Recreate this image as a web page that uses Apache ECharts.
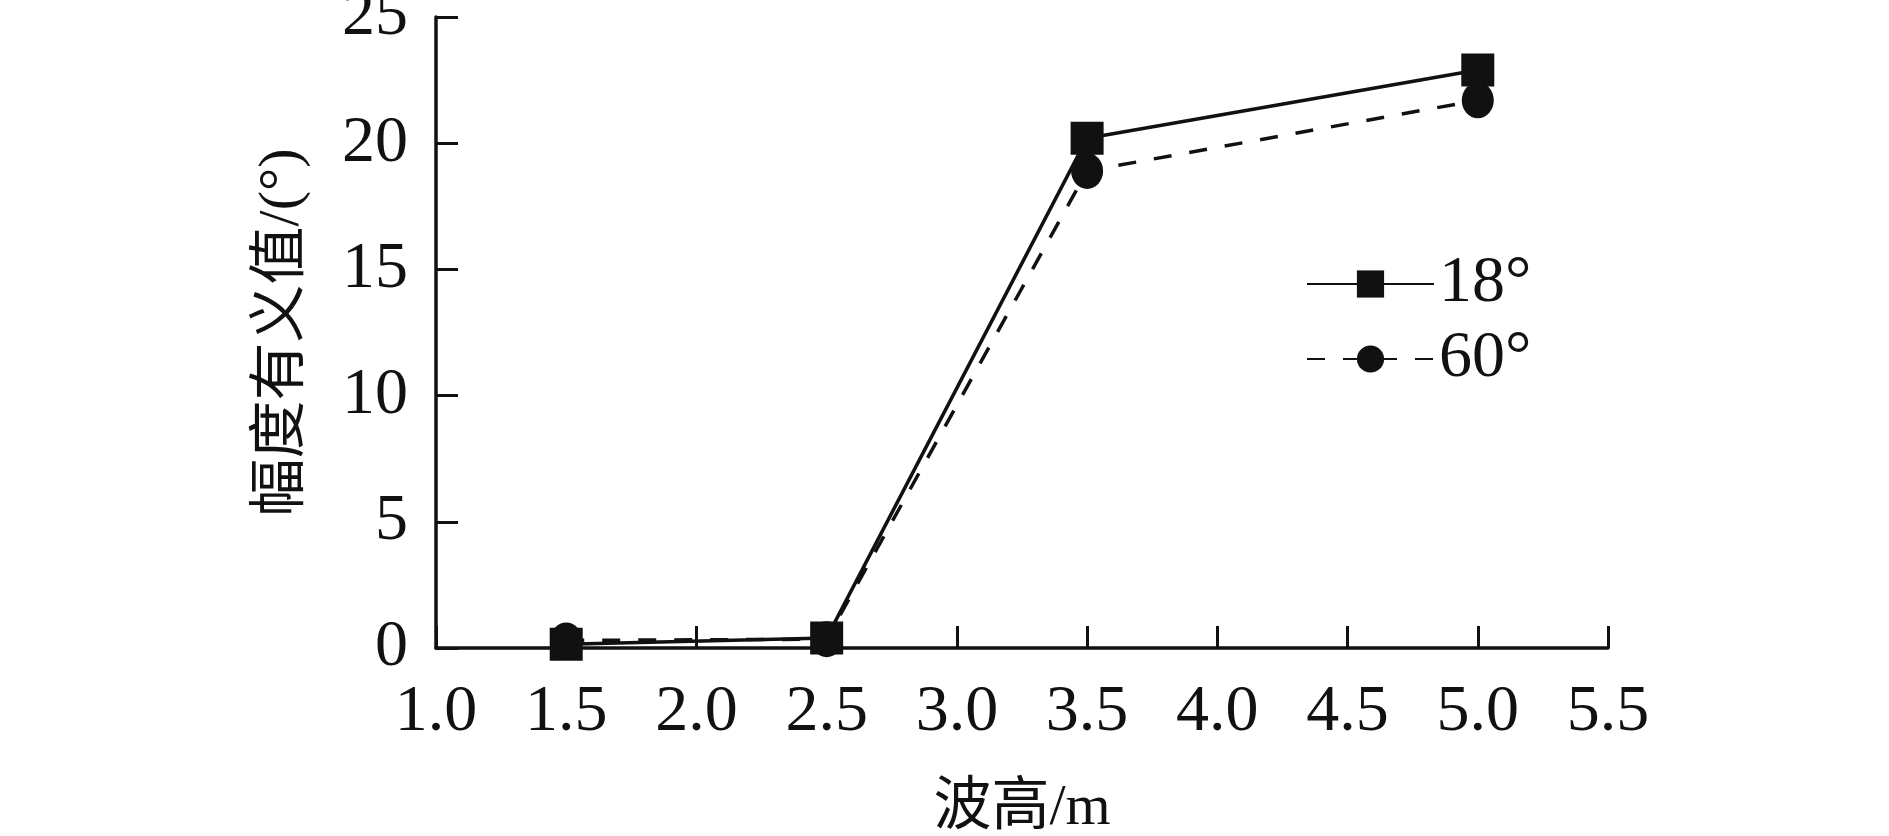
<!DOCTYPE html>
<html>
<head>
<meta charset="utf-8">
<script src="https://cdn.jsdelivr.net/npm/echarts@6/dist/echarts.min.js"></script>
<style>
  html, body { margin: 0; padding: 0; background: #fff; }
  #chart { width: 1889px; height: 836px; }
</style>
</head>
<body>
<div id="chart"></div>
<script>
// wave height (m) vs significant amplitude (deg)
const waveHeights = [1.5, 2.5, 3.5, 5.0];
const amp18 = [0.15, 0.4, 20.2, 22.9];
const amp60 = [0.3, 0.35, 18.9, 21.7];
const seriesNames = ['18°', '60°'];

const font = '"Liberation Serif", "Noto Sans CJK SC", serif';
const ink = '#111';

function pairs(xs, ys) {
  return xs.map((x, i) => [x, ys[i]]);
}

let option = {
  animation: false,
  backgroundColor: '#fff',
  grid: {
    left: 436,
    right: 281,
    top: 17,
    bottom: 188,
    outerBoundsMode: 'none'
  },
  legend: {
    orient: 'vertical',
    left: 1301,
    top: 246,
    itemWidth: 127,
    itemHeight: 34,
    itemGap: 9,
    textStyle: { fontFamily: font, fontSize: 66, color: ink, padding: [0, 0, 0, 0] },
    data: seriesNames
  },
  xAxis: {
    type: 'value',
    min: 1.0,
    max: 5.5,
    interval: 0.5,
    name: '波高/m',
    nameLocation: 'middle',
    nameGap: 132,
    nameTextStyle: { fontFamily: font, fontSize: 58, color: ink },
    axisLine: { lineStyle: { color: ink, width: 3.5 } },
    axisTick: { inside: true, length: 22, lineStyle: { color: ink, width: 3 } },
    axisLabel: {
      margin: 32,
      fontFamily: font, fontSize: 66, color: ink,
      formatter: v => v.toFixed(1)
    },
    splitLine: { show: false }
  },
  yAxis: {
    type: 'value',
    min: 0,
    max: 25,
    interval: 5,
    name: '幅度有义值/(°)',
    nameLocation: 'middle',
    nameGap: 124,
    nameTextStyle: { fontFamily: font, fontSize: 58, color: ink },
    axisLine: { show: true, lineStyle: { color: ink, width: 3.5 } },
    axisTick: { show: true, inside: true, length: 22, lineStyle: { color: ink, width: 3 } },
    axisLabel: { margin: 28, fontFamily: font, fontSize: 66, color: ink },
    splitLine: { show: false }
  },
  series: [
    {
      name: seriesNames[0],
      type: 'line',
      data: pairs(waveHeights, amp18),
      symbol: 'rect',
      symbolSize: 33,
      itemStyle: { color: ink },
      lineStyle: { color: ink, width: 3.5, type: 'solid' }
    },
    {
      name: seriesNames[1],
      type: 'line',
      data: pairs(waveHeights, amp60),
      symbol: 'circle',
      symbolSize: [32, 36],
      itemStyle: { color: ink },
      lineStyle: { color: ink, width: 3.5, type: [18, 18] }
    }
  ]
};

let myChart = echarts.init(document.getElementById('chart'));
myChart.setOption(option);
</script>
</body>
</html>
